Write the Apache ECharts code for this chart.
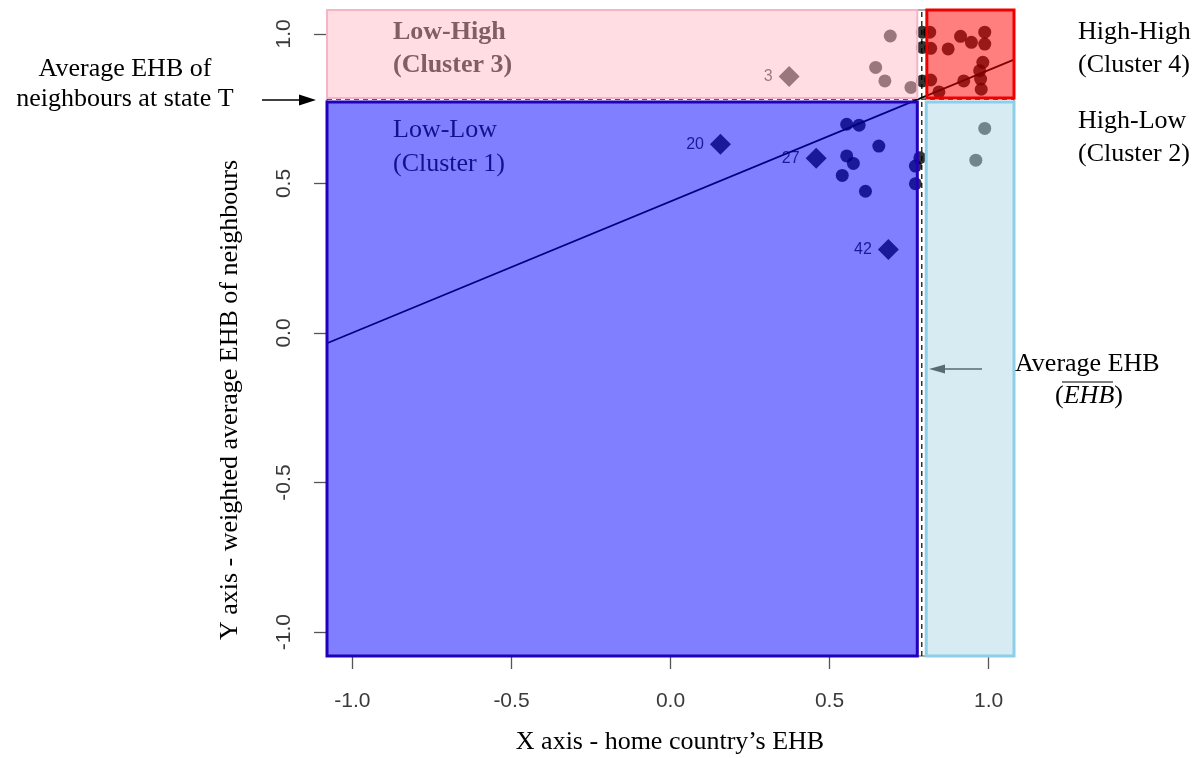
<!DOCTYPE html>
<html>
<head>
<meta charset="utf-8">
<script src="https://cdn.jsdelivr.net/npm/echarts@6/dist/echarts.min.js"></script>
<style>
  html, body { margin: 0; padding: 0; background: #ffffff; }
  #chart { width: 1204px; height: 758px; }
</style>
</head>
<body>
<div id="chart"></div>
<script>
// Axis extent and tick labels
const axisMin = -1.08;
const axisMax = 1.08;
const tickValues = [-1.0, -0.5, 0.0, 0.5, 1.0];

// Country observations: [home EHB, weighted neighbour EHB]
const pointsLowHigh = [[0.691, 0.993], [0.645, 0.888], [0.674, 0.843], [0.756, 0.821]];
const pointsOnMean = [[0.792, 1.006], [0.792, 0.955], [0.792, 0.843], [0.784, 0.586]];
const pointsHighHigh = [
  [0.815, 1.006], [0.818, 0.952], [0.873, 0.950], [0.912, 0.992], [0.946, 0.972],
  [0.988, 1.006], [0.988, 0.966], [0.982, 0.905], [0.972, 0.877], [0.975, 0.849],
  [0.977, 0.815], [0.922, 0.843], [0.818, 0.846], [0.844, 0.806]
];
const pointsHighLow = [[0.988, 0.684], [0.960, 0.578]];
const pointsLowLow = [
  [0.554, 0.698], [0.593, 0.695], [0.655, 0.625], [0.554, 0.592], [0.575, 0.567],
  [0.540, 0.527], [0.613, 0.474], [0.770, 0.558], [0.770, 0.499]
];

// Labelled countries (diamonds)
const labelledIds = ['3', '20', '27', '42'];
const labelledX = [0.373, 0.157, 0.458, 0.685];
const labelledY = [0.858, 0.631, 0.584, 0.279];

// Fitted line end points
const trendX = [-1.08, 1.08];
const trendY = [-0.034, 0.914];

// Means: home EHB and neighbours' EHB
const meanEHB = 0.79;
const meanNeighbour = 0.782;

// Quadrant bounds [xMin, yMin, xMax, yMax]
const quadLowHigh = [-1.08, 0.786, 0.776, 1.08];
const quadHighHigh = [0.806, 0.786, 1.08, 1.08];
const quadLowLow = [-1.08, -1.08, 0.776, 0.772];
const quadHighLow = [0.804, -1.08, 1.08, 0.772];

const allPoints = [].concat(pointsLowHigh, pointsOnMean, pointsHighHigh, pointsHighLow, pointsLowLow);
const diamonds = labelledIds.map((id, i) => ({ name: id, value: [labelledX[i], labelledY[i]] }));

function quad(b, fill, border, bw) {
  return [
    { coord: [b[0], b[1]], itemStyle: { color: fill, borderColor: border, borderWidth: bw } },
    { coord: [b[2], b[3]] }
  ];
}

const serif = '"Liberation Serif", "DejaVu Serif", serif';
const sans = '"Liberation Sans", Arial, sans-serif';
const f26 = '26px ' + serif;

function label(text, x, y, opts) {
  return Object.assign({
    type: 'text', x: x, y: y, z: 100,
    style: { text: text, font: f26, fill: '#000', align: 'left', verticalAlign: 'middle' }
  }, opts || {});
}

const chart = echarts.init(document.getElementById('chart'), null, { renderer: 'canvas' });

chart.setOption({
  animation: false,
  backgroundColor: '#ffffff',
  grid: {
    left: 327, right: 190, top: 10, bottom: 102,
    show: true, borderColor: '#555555', borderWidth: 1, backgroundColor: 'transparent'
  },
  xAxis: {
    type: 'value', min: axisMin, max: axisMax,
    splitLine: { show: false },
    axisLine: { show: false, onZero: false },
    axisTick: { show: true, length: 13, customValues: tickValues, lineStyle: { color: '#555555', width: 1.3 } },
    axisLabel: {
      customValues: tickValues, margin: 35,
      formatter: v => v.toFixed(1),
      fontFamily: sans, fontSize: 21, color: '#3a3a3a'
    }
  },
  yAxis: {
    type: 'value', min: axisMin, max: axisMax,
    splitLine: { show: false },
    axisLine: { show: false, onZero: false },
    axisTick: { show: true, length: 13, customValues: tickValues, lineStyle: { color: '#555555', width: 1.3 } },
    axisLabel: {
      customValues: tickValues, margin: 32, rotate: 90,
      formatter: v => v.toFixed(1),
      fontFamily: sans, fontSize: 21, color: '#3a3a3a'
    }
  },
  series: [
    {
      // mean reference lines
      type: 'line', z: 1, silent: true, symbol: 'none',
      data: [[meanEHB, axisMin], [meanEHB, axisMax]],
      lineStyle: { color: '#222222', width: 1.4, type: [5, 4] }
    },
    {
      type: 'line', z: 1, silent: true, symbol: 'none',
      data: [[axisMin, meanNeighbour], [axisMax, meanNeighbour]],
      lineStyle: { color: '#222222', width: 1.4, type: [5, 4] }
    },
    {
      // fitted line
      type: 'line', z: 2, silent: true, symbol: 'none',
      data: trendX.map((x, i) => [x, trendY[i]]),
      lineStyle: { color: '#000000', width: 1.7 }
    },
    {
      type: 'scatter', z: 2, silent: true,
      symbol: 'circle', symbolSize: 13,
      itemStyle: { color: '#000000' },
      data: allPoints
    },
    {
      type: 'scatter', z: 2, silent: true,
      symbol: 'diamond', symbolSize: 21,
      itemStyle: { color: '#000000' },
      label: {
        show: true, position: 'left', distance: 6,
        formatter: p => p.name,
        fontFamily: sans, fontSize: 16, color: '#000000'
      },
      data: diamonds
    },
    {
      // translucent quadrant overlays
      type: 'scatter', z: 10, silent: true, data: [],
      markArea: {
        silent: true, z: 10,
        label: { show: false },
        data: [
          quad(quadLowHigh, 'rgba(255,188,200,0.5)', '#f4b6c6', 2),
          quad(quadHighHigh, 'rgba(255,0,0,0.5)', '#ee0000', 3),
          quad(quadLowLow, 'rgba(0,0,255,0.5)', '#2200bb', 3),
          quad(quadHighLow, 'rgba(173,216,230,0.5)', '#8ccfe8', 3)
        ]
      }
    }
  ],
  graphic: [
    // axis titles
    label('X axis - home country\u2019s EHB', 670, 742, { style: { text: 'X axis - home country\u2019s EHB', font: f26, fill: '#000', align: 'center', verticalAlign: 'middle' } }),
    label('', 230, 400, { rotation: Math.PI / 2, style: { text: 'Y axis - weighted average EHB of neighbours', font: f26, fill: '#000', align: 'center', verticalAlign: 'middle' } }),

    // left annotation
    label('', 125, 69, { style: { text: 'Average EHB of', font: f26, fill: '#000', align: 'center', verticalAlign: 'middle' } }),
    label('', 125, 99, { style: { text: 'neighbours at state T', font: f26, fill: '#000', align: 'center', verticalAlign: 'middle' } }),
    { type: 'line', z: 100, shape: { x1: 262, y1: 100, x2: 302, y2: 100 }, style: { stroke: '#000', lineWidth: 1.6 } },
    { type: 'polygon', z: 100, shape: { points: [[299, 94.5], [316, 100], [299, 105.5]] }, style: { fill: '#000' } },

    // quadrant names
    label('', 393, 32, { style: { text: 'Low-High', font: 'bold ' + f26, fill: '#7f5e64', align: 'left', verticalAlign: 'middle' } }),
    label('', 393, 65, { style: { text: '(Cluster 3)', font: 'bold ' + f26, fill: '#7f5e64', align: 'left', verticalAlign: 'middle' } }),
    label('', 393, 130, { style: { text: 'Low-Low', font: f26, fill: '#12128c', align: 'left', verticalAlign: 'middle' } }),
    label('', 393, 164, { style: { text: '(Cluster 1)', font: f26, fill: '#12128c', align: 'left', verticalAlign: 'middle' } }),
    label('High-High', 1078, 32),
    label('(Cluster 4)', 1078, 65),
    label('High-Low', 1078, 121),
    label('(Cluster 2)', 1078, 154),

    // mean EHB annotation
    label('Average EHB', 1015, 364),
    { type: 'text', x: 1089, y: 396, z: 100,
      style: {
        text: '{p|(}{m|EHB}{p|)}', align: 'center', verticalAlign: 'middle',
        rich: {
          p: { font: f26, fill: '#000' },
          m: { font: 'italic ' + f26, fill: '#000' }
        }
      } },
    { type: 'line', z: 100, shape: { x1: 1062, y1: 382, x2: 1113, y2: 382 }, style: { stroke: '#000', lineWidth: 1.2 } },
    { type: 'line', z: 100, shape: { x1: 982, y1: 369, x2: 940, y2: 369 }, style: { stroke: '#566c72', lineWidth: 1.6 } },
    { type: 'polygon', z: 100, shape: { points: [[945, 364.5], [929, 369], [945, 373.5]] }, style: { fill: '#566c72' } }
  ]
});
</script>
</body>
</html>
